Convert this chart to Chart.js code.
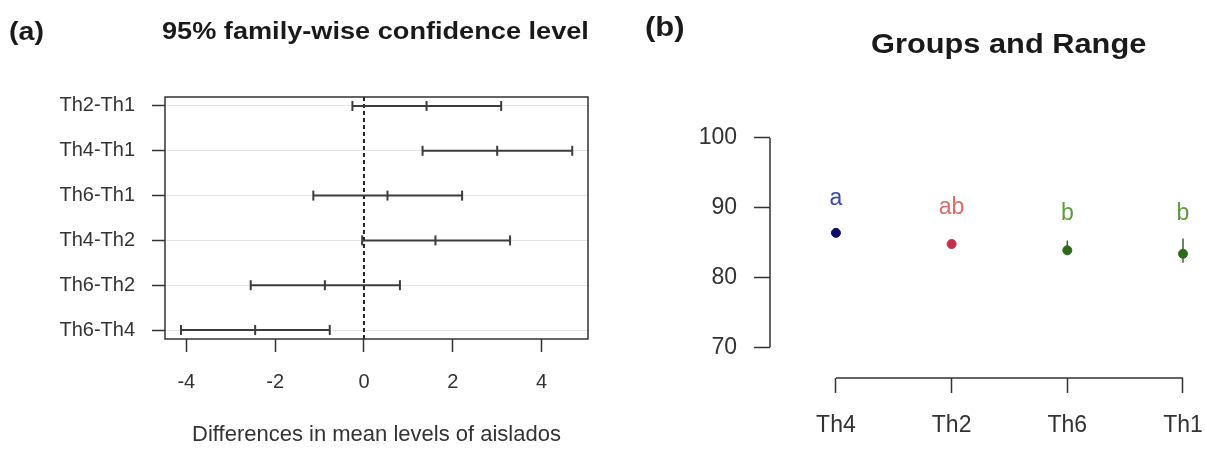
<!DOCTYPE html>
<html>
<head>
<meta charset="utf-8">
<script src="https://cdn.jsdelivr.net/npm/chart.js@4.4.1/dist/chart.umd.min.js"></script>
<style>
  body { margin: 0; background: #fff; font-family: "Liberation Sans", Arial, sans-serif; }
  #wrap { position: relative; width: 1206px; height: 455px; overflow: hidden; }
  canvas { position: absolute; top: 0; }
  .lbl { position: absolute; font-weight: bold; color: #1a1a1a; white-space: nowrap; transform-origin: left center; line-height: 1; }
</style>
</head>
<body>
<div id="wrap">
  <canvas id="tukey" width="600" height="455" style="left:0"></canvas>
  <canvas id="groups" width="606" height="455" style="left:600px"></canvas>
  <div class="lbl" style="left:9px; top:18px; font-size:26px; transform:scaleX(1.1)">(a)</div>
  <div class="lbl" style="left:162px; top:20px; font-size:23px; transform:scaleX(1.18)">95% family-wise confidence level</div>
  <div class="lbl" style="left:645px; top:14px; font-size:27px; transform:scaleX(1.15)">(b)</div>
  <div class="lbl" style="left:871px; top:31px; font-size:27px; transform:scaleX(1.14)">Groups and Range</div>
</div>
<script>
// (a) Tukey HSD differences
const comparisons = ['Th2-Th1', 'Th4-Th1', 'Th6-Th1', 'Th4-Th2', 'Th6-Th2', 'Th6-Th4']
const diffLwr = [-0.26, 1.32, -1.14, -0.04, -2.55, -4.12]
const diffEst = [1.41, 3.00, 0.53, 1.61, -0.88, -2.45]
const diffUpr = [3.09, 4.69, 2.21, 3.29, 0.81, -0.77]
const diffTicks = [-4, -2, 0, 2, 4]

// (b) groups and range
const groups = ['Th4', 'Th2', 'Th6', 'Th1']
const groupMeans = [86.4, 84.8, 83.9, 83.4]
const groupLow = [86.1, 84.4, 83.3, 82.1]
const groupHigh = [86.7, 85.3, 85.3, 85.6]
const groupLetters = ['a', 'ab', 'b', 'b']
const letterPos = [91.3, 90.0, 89.1, 89.1]
const groupTicks = [70, 80, 90, 100]

Chart.defaults.font.family = '"Liberation Sans", Arial, sans-serif'
Chart.defaults.color = '#333'

const pointCol = ['#0c0c6c', '#c2304c', '#2e6a1e', '#2e6a1e']
const letterCol = ['#3a46ad', '#e06a6a', '#5c9c3c', '#5c9c3c']

// no extra room for edge labels, keeps the plot box where it should be
const noPad = s => { s.paddingLeft = 0; s.paddingRight = 0 }

const frame = {
    id: 'frame',
    afterDraw(chart) {
        const a = chart.chartArea, ctx = chart.ctx
        ctx.save()
        ctx.strokeStyle = '#333'
        ctx.lineWidth = 1.5
        ctx.strokeRect(a.left, a.top, a.right - a.left, a.bottom - a.top)
        ctx.restore()
    }
}

const yRows = [0.8, 6.2]
const tukeySets = comparisons.map((c, i) => ({
    label: c,
    data: [{x: diffLwr[i], y: i + 1}, {x: diffEst[i], y: i + 1}, {x: diffUpr[i], y: i + 1}],
    showLine: true,
    borderColor: '#3c3c3c',
    borderWidth: 2,
    pointStyle: 'line',
    rotation: 90,
    pointRadius: 5,
    pointBorderWidth: 2,
    pointBorderColor: '#3c3c3c'
}))
tukeySets.push({
    label: 'zero',
    data: [{x: 0, y: yRows[0]}, {x: 0, y: yRows[1]}],
    showLine: true,
    borderColor: '#222',
    borderWidth: 2,
    borderDash: [4, 3],
    pointRadius: 0
})

new Chart(document.getElementById('tukey'), {
    type: 'scatter',
    data: { datasets: tukeySets },
    options: {
        responsive: false,
        animation: false,
        layout: { padding: { top: 97, right: 12, left: 0, bottom: 0 } },
        plugins: { legend: { display: false }, tooltip: { enabled: false } },
        scales: {
            x: {
                min: -4.48, max: 5.045,
                afterBuildTicks: s => { s.ticks = diffTicks.map(v => ({value: v})) },
                afterFit: s => { s.height = 116; noPad(s) },
                border: { display: false },
                grid: { drawOnChartArea: false, tickLength: 13, tickColor: '#333', tickWidth: 1.5 },
                ticks: { font: { size: 20 }, padding: 18, color: '#333' },
                title: { display: true, text: 'Differences in mean levels of aislados', font: { size: 22 }, color: '#333', padding: { top: 0, bottom: 7 } }
            },
            y: {
                reverse: true,
                min: yRows[0], max: yRows[1],
                afterBuildTicks: s => { s.ticks = comparisons.map((c, i) => ({value: i + 1})) },
                afterFit: s => { s.width = 165 },
                border: { display: false },
                grid: { color: '#e4e4e4', lineWidth: 1, tickLength: 13, tickColor: '#333', tickWidth: 1.5 },
                ticks: { autoSkip: false, font: { size: 20 }, padding: 17, color: '#333',
                    callback: v => comparisons[Math.round(v) - 1] }
            }
        }
    },
    plugins: [frame]
})

const rAxes = {
    id: 'rAxes',
    afterDraw(chart) {
        const ctx = chart.ctx, a = chart.chartArea
        const x = chart.scales.x, y = chart.scales.y
        ctx.save()
        ctx.strokeStyle = '#333'
        ctx.lineWidth = 1.5
        ctx.beginPath()
        ctx.moveTo(a.left, y.getPixelForValue(groupTicks[0]))
        ctx.lineTo(a.left, y.getPixelForValue(groupTicks[groupTicks.length - 1]))
        ctx.moveTo(x.getPixelForValue(1), a.bottom)
        ctx.lineTo(x.getPixelForValue(groups.length), a.bottom)
        ctx.stroke()
        ctx.font = '23px "Liberation Sans", Arial, sans-serif'
        ctx.textAlign = 'center'
        ctx.textBaseline = 'middle'
        groupLetters.forEach((l, i) => {
            ctx.fillStyle = letterCol[i]
            ctx.fillText(l, x.getPixelForValue(i + 1), y.getPixelForValue(letterPos[i]))
        })
        ctx.restore()
    }
}

const groupSets = groups.map((g, i) => ({
    label: g,
    data: [{x: i + 1, y: groupLow[i]}, {x: i + 1, y: groupHigh[i]}],
    showLine: true,
    borderColor: pointCol[i],
    borderWidth: 1.5,
    pointRadius: 0
}))
groupSets.push({
    label: 'means',
    data: groupMeans.map((m, i) => ({x: i + 1, y: m})),
    pointRadius: 4.5,
    pointStyle: 'circle',
    backgroundColor: pointCol,
    borderColor: pointCol,
    borderWidth: 1
})

new Chart(document.getElementById('groups'), {
    type: 'scatter',
    data: { datasets: groupSets },
    options: {
        responsive: false,
        animation: false,
        layout: { padding: { top: 124, right: 6, left: 0, bottom: 0 } },
        plugins: { legend: { display: false }, tooltip: { enabled: false } },
        scales: {
            x: {
                min: 0.43, max: 4.147,
                afterBuildTicks: s => { s.ticks = groups.map((g, i) => ({value: i + 1})) },
                afterFit: s => { s.height = 77; noPad(s) },
                border: { display: false },
                grid: { drawOnChartArea: false, tickLength: 15, tickColor: '#333', tickWidth: 1.5 },
                ticks: { autoSkip: false, font: { size: 23 }, padding: 19, color: '#333',
                    callback: v => groups[Math.round(v) - 1] }
            },
            y: {
                min: 65.6, max: 102,
                afterBuildTicks: s => { s.ticks = groupTicks.map(v => ({value: v})) },
                afterFit: s => { s.width = 170 },
                border: { display: false },
                grid: { drawOnChartArea: false, tickLength: 16, tickColor: '#333', tickWidth: 1.5 },
                ticks: { font: { size: 23 }, padding: 17, color: '#333' }
            }
        }
    },
    plugins: [rAxes]
})
</script>
</body>
</html>
